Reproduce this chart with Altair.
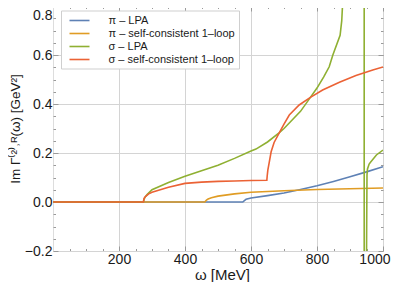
import altair as alt
import pandas as pd

series_names = ["π – LPA", "π – self-consistent 1–loop", "σ – LPA", "σ – self-consistent 1–loop"]
series_colors = ["#5E81B5", "#E09C24", "#8FB032", "#EB6235"]

pi_lpa_w = [0, 575, 580, 585, 600, 650, 700, 750, 800, 850, 900, 950, 1000]
pi_lpa_v = [0, 0, 0.006, 0.011, 0.016, 0.026, 0.037, 0.051, 0.066, 0.084, 0.103, 0.123, 0.144]

pi_sc_w = [0, 460, 465, 470, 480, 500, 550, 600, 700, 800, 900, 1000]
pi_sc_v = [0, 0, 0.008, 0.012, 0.017, 0.024, 0.033, 0.040, 0.046, 0.051, 0.054, 0.057]

sig_lpa_w = [0, 274, 276, 280, 285, 300, 350, 400, 450, 500, 550, 600, 615, 650, 686, 700, 750,
             780, 800, 820, 837, 848, 870, 875, 878, 890, 910, 930, 942.5, 943.5, 947, 949, 950.5,
             951.5, 953, 958, 964, 980, 1000]
sig_lpa_v = [0, 0, 0.012, 0.022, 0.030, 0.050, 0.080, 0.105, 0.128, 0.150, 0.178, 0.208, 0.216,
             0.245, 0.283, 0.300, 0.370, 0.427, 0.465, 0.510, 0.552, 0.600, 0.680, 0.740, 0.820,
             1.3, 3.0, 10.0, 60.0, -60.0, -3.0, -0.5, -0.1, 0.110, 0.135, 0.155, 0.165, 0.192, 0.212]

sig_sc_w = [0, 274, 276, 280, 290, 300, 350, 400, 450, 500, 550, 600, 648, 649, 651, 655, 661,
            670, 686, 700, 716, 746, 780, 817, 868, 918, 969, 1000]
sig_sc_v = [0, 0, 0.015, 0.022, 0.033, 0.040, 0.060, 0.076, 0.081, 0.084, 0.086, 0.088, 0.089,
            0.105, 0.130, 0.160, 0.205, 0.243, 0.283, 0.318, 0.355, 0.396, 0.427, 0.457, 0.489,
            0.516, 0.539, 0.551]

x_major = [200, 400, 600, 800, 1000]
y_major = [-0.2, 0.0, 0.2, 0.4, 0.6, 0.8]
x_minor = list(range(50, 1000, 50))
y_minor = [round(-0.15 + 0.05 * i, 2) for i in range(19)]

rows = []
for name, ws, vs in zip(series_names,
                        [pi_lpa_w, pi_sc_w, sig_lpa_w, sig_sc_w],
                        [pi_lpa_v, pi_sc_v, sig_lpa_v, sig_sc_v]):
    for i, (w, v) in enumerate(zip(ws, vs)):
        rows.append({"omega": w, "val": v, "series": name, "order": i})
df = pd.DataFrame(rows)

W, H = 330, 245
FONT = "Liberation Sans"
TXT = "#1a1a1a"
TICK = "#9a9a9a"

xs = alt.Scale(domain=[0, 1000], nice=False, zero=False)
ys = alt.Scale(domain=[-0.2, 0.8], nice=False, zero=False)

lines = alt.Chart(df).mark_line(strokeWidth=1.6, clip=True).encode(
    x=alt.X("omega:Q", scale=xs, axis=alt.Axis(
        orient="bottom", values=x_major, format="d", grid=True, gridColor="#d4d4d4",
        gridWidth=1, domain=False, ticks=False, labelPadding=1, labelFontSize=14,
        labelFont=FONT, labelColor=TXT, labelFlush=True, labelFlushOffset=7,
        title="ω [MeV]", titleFont=FONT, titleFontSize=15, titleFontWeight="normal",
        titleColor=TXT, titlePadding=1, titleX=169)),
    y=alt.Y("val:Q", scale=ys, axis=alt.Axis(
        orient="left", values=y_major, format=".1f", grid=True, gridColor="#d4d4d4",
        gridWidth=1, domain=False, ticks=False, labelPadding=1, labelFontSize=14,
        labelFont=FONT, labelColor=TXT, labelFlush=False,
        labelExpr="datum.value > 0.75 ? '' : datum.label",
        title="Im Γ⁽²⁾˒ᴿ(ω) [GeV²]", titleFont=FONT, titleFontSize=13.5,
        titleFontWeight="normal", titleColor=TXT, titlePadding=2)),
    color=alt.Color("series:N", scale=alt.Scale(domain=series_names, range=series_colors),
                    legend=alt.Legend(
                        orient="none", legendX=8, legendY=4.5, title=None,
                        symbolType="M-2,0H2", symbolSize=100, symbolStrokeWidth=1.6,
                        symbolFillColor="transparent",
                        labelFont=FONT, labelFontSize=11, labelColor=TXT,
                        labelExpr="datum.label + '\u00a0\u00a0'",
                        labelOffset=23, rowPadding=2, padding=4, symbolOffset=8.5,
                        fillColor="white", strokeColor="#cfcfcf", labelLimit=300)),
    order="order:Q",
)

minor = alt.Chart(df).mark_point(opacity=0).encode(
    x=alt.X("omega:Q", scale=xs, axis=alt.Axis(
        orient="top", values=x_minor, grid=True, gridColor=TICK, gridWidth=1,
        gridDash=[2.5, H - 5, 2.5, 2000], domain=False, ticks=False, labels=False,
        title=None)),
    y=alt.Y("val:Q", scale=ys, axis=alt.Axis(
        orient="right", values=y_minor, grid=True, gridColor=TICK, gridWidth=1,
        gridDash=[2.5, W - 5, 2.5, 2000], domain=False, ticks=False, labels=False,
        title=None)),
)

major = alt.Chart(df).mark_point(opacity=0).encode(
    x=alt.X("omega:Q", scale=xs, axis=alt.Axis(
        orient="bottom", values=x_major, grid=True, gridColor=TICK, gridWidth=1,
        gridDash=[5, H - 10, 5, 2000], domain=False, ticks=False, labels=False,
        title=None)),
    y=alt.Y("val:Q", scale=ys, axis=alt.Axis(
        orient="left", values=y_major, format=".1f", grid=True, gridColor=TICK, gridWidth=1,
        gridDash=[5, W - 10, 5, 2000], domain=False, ticks=False, labels=True,
        labelExpr="datum.value > 0.75 ? datum.label : ''", labelBaseline="top",
        labelOffset=2, labelPadding=1, labelFontSize=14, labelFont=FONT, labelColor=TXT,
        labelFlush=False, title=None)),
)

chart = alt.layer(lines, minor, major).resolve_axis(x="independent", y="independent").properties(
    width=W, height=H,
    autosize=alt.AutoSizeParams(type="none"),
    padding={"left": 45, "top": -2, "right": 8, "bottom": 31},
).configure_view(stroke="#b0b0b0", strokeWidth=1).configure(background="white")

chart.save("out.html", embed_options={"renderer": "svg", "actions": False})
